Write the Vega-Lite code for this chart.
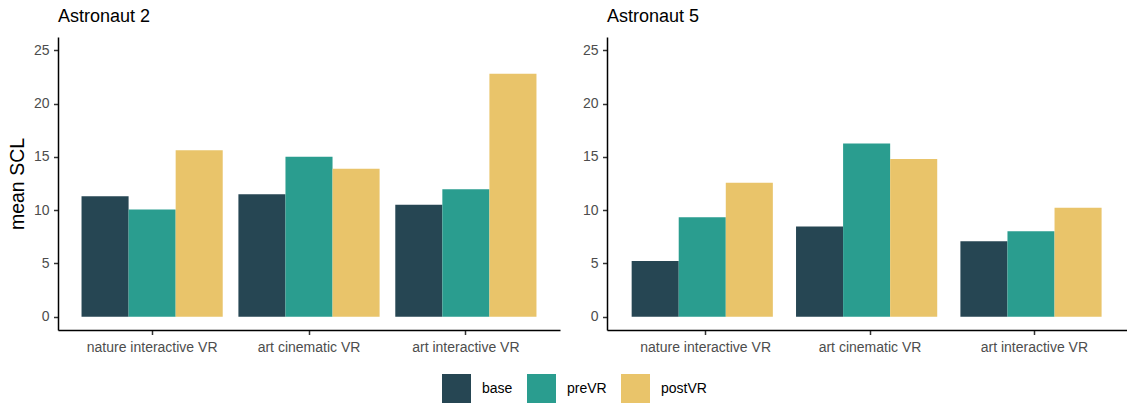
{
  "$schema": "https://vega.github.io/schema/vega-lite/v6.json",
  "autosize": {"type": "pad"},
  "padding": {"left": 7, "top": 8, "right": 0, "bottom": 0},
  "background": "white",
  "data": {
    "values": [
      {"astronaut": "Astronaut 2", "condition": "nature interactive VR", "phase": "base", "scl": 11.31},
      {"astronaut": "Astronaut 2", "condition": "nature interactive VR", "phase": "preVR", "scl": 10.06},
      {"astronaut": "Astronaut 2", "condition": "nature interactive VR", "phase": "postVR", "scl": 15.63},
      {"astronaut": "Astronaut 2", "condition": "art cinematic VR", "phase": "base", "scl": 11.5},
      {"astronaut": "Astronaut 2", "condition": "art cinematic VR", "phase": "preVR", "scl": 15.0},
      {"astronaut": "Astronaut 2", "condition": "art cinematic VR", "phase": "postVR", "scl": 13.88},
      {"astronaut": "Astronaut 2", "condition": "art interactive VR", "phase": "base", "scl": 10.5},
      {"astronaut": "Astronaut 2", "condition": "art interactive VR", "phase": "preVR", "scl": 11.97},
      {"astronaut": "Astronaut 2", "condition": "art interactive VR", "phase": "postVR", "scl": 22.8},
      {"astronaut": "Astronaut 5", "condition": "nature interactive VR", "phase": "base", "scl": 5.22},
      {"astronaut": "Astronaut 5", "condition": "nature interactive VR", "phase": "preVR", "scl": 9.34},
      {"astronaut": "Astronaut 5", "condition": "nature interactive VR", "phase": "postVR", "scl": 12.56},
      {"astronaut": "Astronaut 5", "condition": "art cinematic VR", "phase": "base", "scl": 8.47},
      {"astronaut": "Astronaut 5", "condition": "art cinematic VR", "phase": "preVR", "scl": 16.25},
      {"astronaut": "Astronaut 5", "condition": "art cinematic VR", "phase": "postVR", "scl": 14.81},
      {"astronaut": "Astronaut 5", "condition": "art interactive VR", "phase": "base", "scl": 7.09},
      {"astronaut": "Astronaut 5", "condition": "art interactive VR", "phase": "preVR", "scl": 8.03},
      {"astronaut": "Astronaut 5", "condition": "art interactive VR", "phase": "postVR", "scl": 10.22}
    ]
  },
  "config": {
    "font": "Liberation Sans",
    "view": {"stroke": null},
    "axis": {
      "grid": false,
      "domainColor": "#000000",
      "domainWidth": 1.5,
      "tickColor": "#333333",
      "tickWidth": 1.5,
      "tickSize": 4.5,
      "labelColor": "#4D4D4D",
      "labelFont": "Liberation Sans",
      "labelFontSize": 14,
      "titleFont": "Liberation Sans",
      "titleFontSize": 19.5,
      "titleFontWeight": "normal",
      "titleColor": "#000000"
    },
    "axisX": {"labelAngle": 0, "labelBaseline": "alphabetic", "labelPadding": 17},
    "axisY": {"labelPadding": 4.5, "titleBaseline": "alphabetic", "titlePadding": 10},
    "title": {
      "font": "Liberation Sans",
      "fontSize": 18,
      "fontWeight": "normal",
      "color": "#000000",
      "anchor": "start",
      "frame": "group",
      "baseline": "alphabetic",
      "offset": 11
    },
    "legend": {
      "orient": "none",
      "legendX": 384,
      "legendY": 337,
      "direction": "horizontal",
      "symbolType": "square",
      "symbolSize": 841,
      "symbolStrokeWidth": 0,
      "symbolOpacity": 1,
      "labelFont": "Liberation Sans",
      "labelFontSize": 14,
      "labelColor": "#000000",
      "labelOffset": 11,
      "columnPadding": 14
    }
  },
  "spacing": 47,
  "bounds": "flush",
  "resolve": {"scale": {"color": "shared"}, "legend": {"color": "shared"}},
  "hconcat": [
    {
      "width": 502,
      "height": 293,
      "title": {"text": "Astronaut 2"},
      "transform": [{"filter": "datum.astronaut === 'Astronaut 2'"}],
      "mark": {"type": "bar"},
      "encoding": {
        "x": {
          "field": "condition",
          "type": "nominal",
          "sort": ["nature interactive VR", "art cinematic VR", "art interactive VR"],
          "scale": {"paddingInner": 0.1, "paddingOuter": 0.15},
          "axis": {"title": null}
        },
        "xOffset": {
          "field": "phase",
          "sort": ["base", "preVR", "postVR"],
          "scale": {"paddingInner": 0, "paddingOuter": 0}
        },
        "y": {
          "field": "scl",
          "type": "quantitative",
          "scale": {"domain": [-1.25, 26.25], "nice": false, "zero": false},
          "axis": {"title": "mean SCL", "values": [0, 5, 10, 15, 20, 25]}
        },
        "y2": {"datum": 0},
        "color": {
          "field": "phase",
          "type": "nominal",
          "sort": ["base", "preVR", "postVR"],
          "scale": {"domain": ["base", "preVR", "postVR"], "range": ["#264653", "#2A9D8F", "#E9C46A"]},
          "legend": {"title": null}
        }
      }
    },
    {
      "width": 526,
      "height": 293,
      "title": {"text": "Astronaut 5"},
      "transform": [{"filter": "datum.astronaut === 'Astronaut 5'"}],
      "mark": {"type": "bar"},
      "encoding": {
        "x": {
          "field": "condition",
          "type": "nominal",
          "sort": ["nature interactive VR", "art cinematic VR", "art interactive VR"],
          "scale": {"paddingInner": 0.1, "paddingOuter": 0.15},
          "axis": {"title": null}
        },
        "xOffset": {
          "field": "phase",
          "sort": ["base", "preVR", "postVR"],
          "scale": {"paddingInner": 0, "paddingOuter": 0}
        },
        "y": {
          "field": "scl",
          "type": "quantitative",
          "scale": {"domain": [-1.25, 26.25], "nice": false, "zero": false},
          "axis": {"title": null, "values": [0, 5, 10, 15, 20, 25]}
        },
        "y2": {"datum": 0},
        "color": {
          "field": "phase",
          "type": "nominal",
          "sort": ["base", "preVR", "postVR"],
          "scale": {"domain": ["base", "preVR", "postVR"], "range": ["#264653", "#2A9D8F", "#E9C46A"]},
          "legend": {"title": null}
        }
      }
    }
  ]
}
